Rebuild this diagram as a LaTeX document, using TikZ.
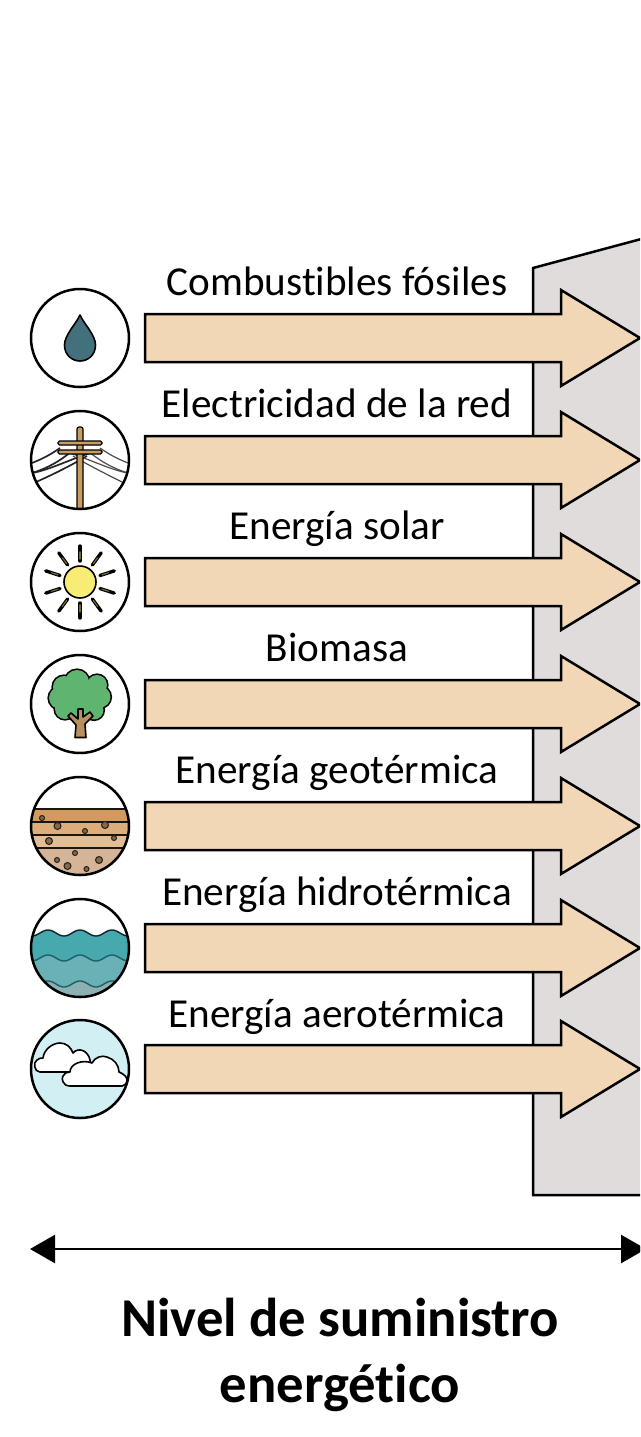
\documentclass[tikz,border=0pt]{standalone}
\usepackage{fontspec}
\setmainfont[Ligatures=NoCommon]{Carlito}
\usetikzlibrary{arrows.meta}
\definecolor{peach}{HTML}{F2D7B6}
\definecolor{wallgrey}{HTML}{E0DCDC}
\definecolor{droptl}{HTML}{42707C}
\definecolor{polebr}{HTML}{C99C63}
\definecolor{sunyl}{HTML}{F7EC74}
\definecolor{treegr}{HTML}{5FB56F}
\definecolor{trunkbr}{HTML}{B8905F}
\definecolor{soilA}{HTML}{D39A5B}
\definecolor{soilB}{HTML}{DBAE7B}
\definecolor{soilC}{HTML}{E2BE97}
\definecolor{soilD}{HTML}{D6B497}
\definecolor{stone}{HTML}{85684A}
\definecolor{waterA}{HTML}{45A9AE}
\definecolor{waterB}{HTML}{69B1B5}
\definecolor{waterC}{HTML}{8DB1B3}
\definecolor{waveln}{HTML}{1F5F68}
\definecolor{skyc}{HTML}{D2F0F3}
\tikzset{
  x=1pt,y=-1pt,
  ring/.style={circle,draw=black,line width=2.5pt,minimum size=98pt,inner sep=0pt},
  bigarrow/.style={draw=black,fill=peach,line width=2.5pt,line join=miter},
  wall/.style={draw=black,fill=wallgrey,line width=2.5pt},
  srclabel/.style={font=\fontsize{41.2}{44}\selectfont,anchor=base,inner sep=0pt},
  titlelabel/.style={font=\fontsize{54.7}{57}\bfseries\selectfont,anchor=base,inner sep=0pt},
  icon/.style={draw=black,line width=1.6pt,line join=round},
  stonedot/.style={draw=black!70!stone,fill=stone,line width=1pt},
  wire/.style={draw=black!85,line width=1.2pt},
}
\newcommand{\srcarrow}[1]{%
  \path[bigarrow] (145,#1-24) -- (561,#1-24) -- (561,#1-48) -- (640,#1) -- (561,#1+48) -- (561,#1+24) -- (145,#1+24) -- cycle;}
\newcommand{\wavefill}[3]{%
  \path[fill=#2,draw=#3,line width=1.4pt] plot[domain=-52:52,samples=70] (\x,{#1-3*cos(11.25*\x)}) -- (52,52) -- (-52,52) -- cycle;}
\begin{document}
\begin{tikzpicture}
\useasboundingbox (0,0) rectangle (640,1437);
\clip (0,0) rectangle (640,1437);
\path[wall] (533,268) -- (645,238) -- (645,1195) -- (533,1195) -- cycle;
\foreach \yy in {338,460,582,704,826,948,1069}{\srcarrow{\yy}}

% drop
\begin{scope}[shift={(80,338)}]
  \path[icon,fill=droptl] (0,-23) .. controls (-4,-14) and (-15.5,-3) .. (-15.5,7)
    .. controls (-15.5,17) and (-8,23) .. (0,23)
    .. controls (8,23) and (15.5,17) .. (15.5,7)
    .. controls (15.5,-3) and (4,-14) .. (0,-23) -- cycle;
\end{scope}
% pole
\begin{scope}[shift={(80,460)}]
  \clip (0,0) circle[radius=49];
  \draw[wire,line width=1.7pt] (-20,-12) .. controls (-30,-5) and (-38,-1) .. (-48,3);
  \draw[wire,line width=1.7pt] (-8,-9) .. controls (-20,1) and (-32,8) .. (-48,13);
  \draw[wire,line width=1.7pt] (14,-8) .. controls (-5,-3) and (-30,10) .. (-48,13);
  \draw[wire,line width=1.7pt] (7,-4) .. controls (-8,5) and (-28,15) .. (-44,22);
  \draw[wire,black!70] (20,-12) .. controls (30,-5) and (38,-1) .. (48,3);
  \draw[wire,black!70] (8,-9) .. controls (20,1) and (32,8) .. (48,13);
  \draw[wire,black!70] (-14,-8) .. controls (5,-3) and (30,10) .. (48,13);
  \draw[wire,black!70] (-7,-4) .. controls (8,5) and (28,15) .. (42,22);
  \path[draw=black,fill=polebr,line width=1.2pt,rounded corners=2pt] (-3,-33) rectangle (3,52);
  \path[draw=black,fill=polebr,line width=1.2pt,rounded corners=1.5pt] (-22,-19) rectangle (22,-15);
  \path[draw=black,fill=polebr,line width=1.2pt,rounded corners=1.5pt] (-22,-10) rectangle (22,-6);
\end{scope}
% sun
\begin{scope}[shift={(80,582)}]
  \foreach \a in {90,54,18,-18,-54,-90,-126,-162,162,126}{
    \draw[black,line width=3.4pt,line cap=round] (\a:21) -- (\a:36);
    \draw[black!35!sunyl!70!black,line width=1.2pt,line cap=round] (\a:23) -- (\a:30);
  }
  \path[icon,fill=sunyl] (0,0) circle[radius=16];
\end{scope}
% tree
\begin{scope}[shift={(80,704)}]
  \foreach \tx/\ty/\tr in {-3/-22/12,-16/-17/11,17/-19/10,-20/-6/11,20/-7/10.5,-15/5/10,14/6/9.5,0/6/10,0/-8/16}{
    \path[draw=black,line width=3.2pt] (\tx,\ty) circle[radius=\tr];
  }
  \foreach \tx/\ty/\tr in {-3/-22/12,-16/-17/11,17/-19/10,-20/-6/11,20/-7/10.5,-15/5/10,14/6/9.5,0/6/10,0/-8/16}{
    \path[fill=treegr] (\tx,\ty) circle[radius=\tr];
  }
  \path[draw=black,fill=trunkbr,line width=1.6pt,line join=round]
    (-5,33.5) -- (6,33.5) -- (5,20) -- (13,12) -- (10,8) -- (3,13) -- (3,5) -- (-2,5) -- (-2,15) -- (-9,9) -- (-12,12) -- (-4,21) -- cycle;
\end{scope}
% soil
\begin{scope}[shift={(80,826)}]
  \begin{scope}
    \clip (0,0) circle[radius=49];
    \path[fill=soilD] (-50,22) rectangle (50,50);
    \path[fill=soilC] (-50,10) rectangle (50,22);
    \path[fill=soilB] (-50,-4) rectangle (50,10);
    \path[fill=soilA] (-50,-17) rectangle (50,-4);
    \draw[black!80!stone,line width=1.6pt] (-50,-17) -- (50,-17);
    \foreach \yl in {-4,9,22}{\draw[black!80!stone,line width=1.1pt] (-50,\yl) -- (50,\yl);}
  \end{scope}
  \foreach \sx/\sy/\sr in {-38/-8/2.5,-22.5/0/3.5,5/5/2.5,25/-1/3.5,34/12/2.5,-31/15/3.5,-5/27/2.5,-23/34/2.5,-12.5/40/3.5,19/34/3.5,6.5/43/2.5}{
    \path[stonedot] (\sx,\sy) circle[radius=\sr];
  }
\end{scope}
% water
\begin{scope}[shift={(80,948)}]
  \clip (0,0) circle[radius=49];
  \wavefill{-15}{waterA}{black!60!waveln}
  \wavefill{10}{waterB}{waveln}
  \wavefill{36}{waterC}{waveln}
\end{scope}
% clouds
\begin{scope}[shift={(80,1069)}]
  \begin{scope}
    \clip (0,0) circle[radius=49];
    \path[fill=skyc] (-50,-50) rectangle (50,50);
  \end{scope}
  \path[icon,fill=white] (-40,3) .. controls (-46,3) and (-47,-7) .. (-43,-9)
    .. controls (-41,-11) and (-39,-11) .. (-37,-11)
    .. controls (-36,-20) and (-27,-26) .. (-20,-26)
    .. controls (-14,-26) and (-9,-22) .. (-7,-16)
    .. controls (-2,-22) and (8,-19) .. (10,-9)
    .. controls (12,-5) and (10,3) .. (5,3) -- cycle;
  \path[icon,fill=white] (-10,17) .. controls (-17,17) and (-19,10) .. (-17,7)
    .. controls (-16,4) and (-13,3) .. (-10,3)
    .. controls (-10,-5) and (2,-10) .. (12,-6)
    .. controls (15,-12) and (22,-14) .. (27,-12)
    .. controls (34,-10) and (39,-4) .. (39,3)
    .. controls (44,5) and (47,8) .. (47,11)
    .. controls (47,15) and (44,17) .. (42,17) -- cycle;
\end{scope}

% rings
\node[ring] (iconA) at (80,338) {};
\node[ring] (iconB) at (80,460) {};
\node[ring] (iconC) at (80,582) {};
\node[ring] (iconD) at (80,704) {};
\node[ring] (iconE) at (80,826) {};
\node[ring] (iconF) at (80,948) {};
\node[ring] (iconG) at (80,1069) {};

% labels
\node[srclabel] (labA) at (337,295) {Combustibles fósiles};
\node[srclabel] (labB) at (337,417) {Electricidad de la red};
\node[srclabel] (labC) at (337,539) {Energía solar};
\node[srclabel] (labD) at (337,661) {Biomasa};
\node[srclabel] (labE) at (337,783) {Energía geotérmica};
\node[srclabel] (labF) at (337,905) {Energía hidrotérmica};
\node[srclabel] (labG) at (337,1027) {Energía aerotérmica};

% range arrow
\coordinate (rangeL) at (30,1249);
\coordinate (rangeR) at (646,1249);
\draw[{Triangle[length=25pt,width=28pt]}-{Triangle[length=25pt,width=28pt]},line width=2.6pt,black] (rangeL) -- (rangeR);

\node[titlelabel] (titleA) at (340,1336) {Nivel de suministro};
\node[titlelabel] (titleB) at (340,1402) {energético};
\end{tikzpicture}
\end{document}
